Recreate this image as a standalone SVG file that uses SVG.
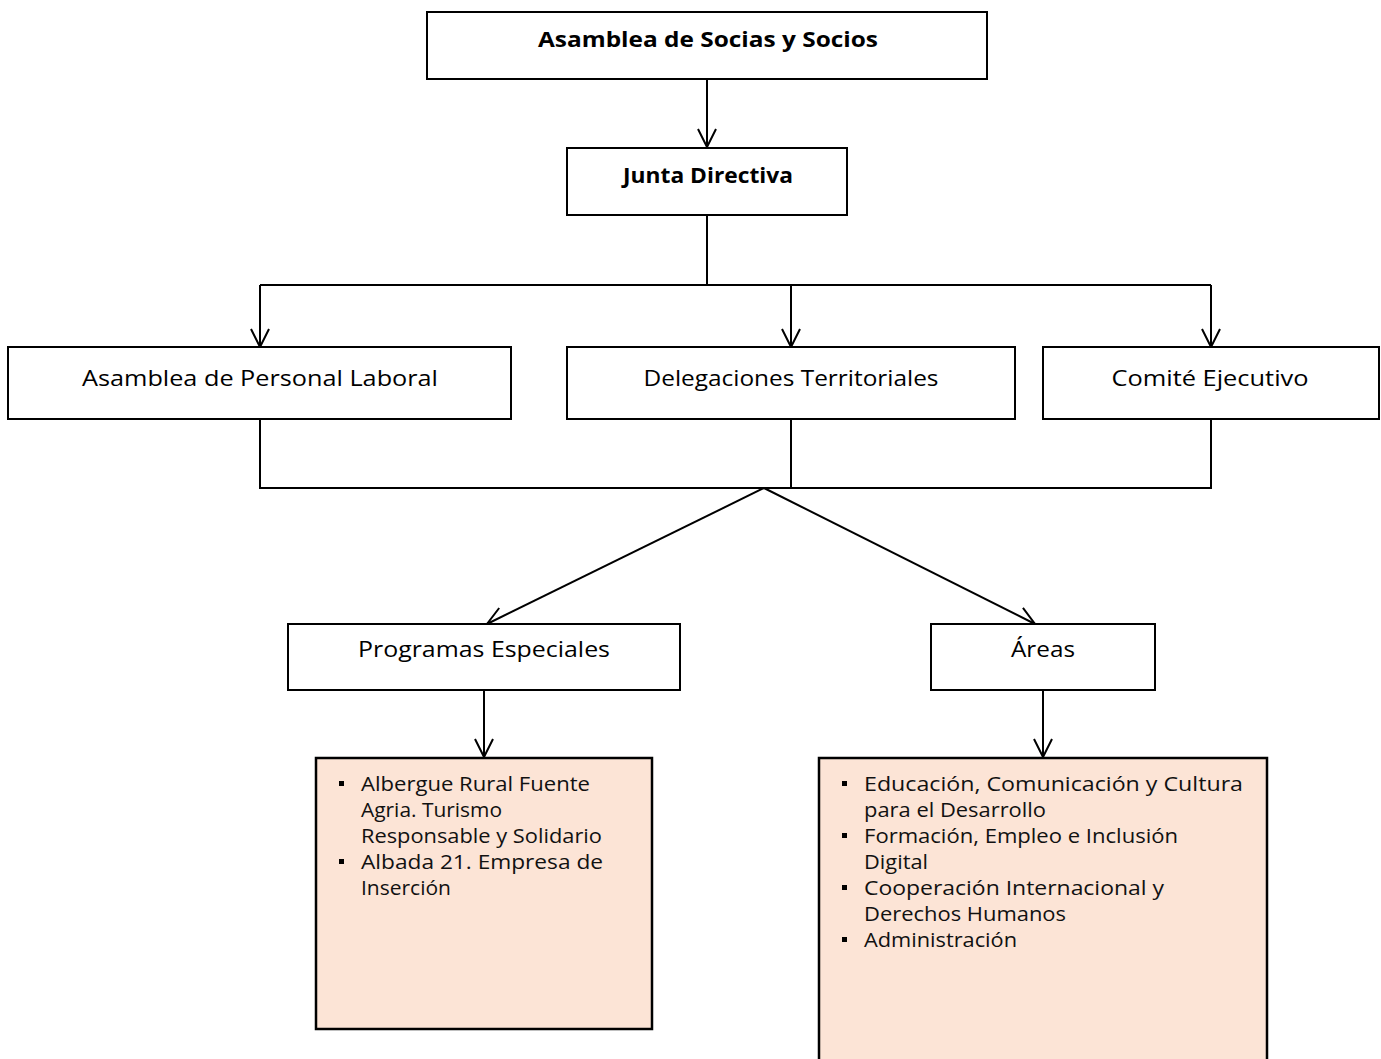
<svg xmlns="http://www.w3.org/2000/svg" width="1381" height="1059" viewBox="0 0 1381 1059">
<style>
.box{fill:#ffffff;stroke:#000000;stroke-width:2}
.list{fill:#FCE4D6;stroke:#000000;stroke-width:2.5}
.lbl{font-family:"Open Sans","Liberation Sans",sans-serif;font-size:21px;fill:#000000;text-anchor:middle}
.bold{font-weight:bold}
.item{font-family:"Open Sans","Liberation Sans",sans-serif;font-size:20px;fill:#111111}
.conn{fill:none;stroke:#000000;stroke-width:2}
.bullet{fill:#000000}
</style>
<defs>
<marker id="arr" viewBox="0 0 24 24" refX="21" refY="12" markerWidth="24" markerHeight="24" markerUnits="userSpaceOnUse" orient="auto">
<polyline points="3,3 21,12 3,21" fill="none" stroke="#000000" stroke-width="2"/>
</marker>
</defs>
<rect width="1381" height="1059" fill="#ffffff"/>
<g id="connectors">
<line class="conn" x1="707" y1="79" x2="707" y2="147" marker-end="url(#arr)"/>
<polyline class="conn" points="707,215 707,285"/>
<polyline class="conn" points="260,285 1211,285"/>
<line class="conn" x1="260" y1="285" x2="260" y2="347" marker-end="url(#arr)"/>
<line class="conn" x1="791" y1="285" x2="791" y2="347" marker-end="url(#arr)"/>
<line class="conn" x1="1211" y1="285" x2="1211" y2="347" marker-end="url(#arr)"/>
<polyline class="conn" points="260,419 260,488 1211,488 1211,419"/>
<line class="conn" x1="791" y1="419" x2="791" y2="488"/>
<line class="conn" x1="764" y1="488" x2="487" y2="624" marker-end="url(#arr)"/>
<line class="conn" x1="764" y1="488" x2="1035" y2="624" marker-end="url(#arr)"/>
<line class="conn" x1="484" y1="690" x2="484" y2="757" marker-end="url(#arr)"/>
<line class="conn" x1="1043" y1="690" x2="1043" y2="757" marker-end="url(#arr)"/>
</g>
<g id="asamblea-socios">
<rect class="box" x="427" y="12" width="560" height="67"/>
<text class="lbl bold" x="708" y="47" textLength="340" lengthAdjust="spacingAndGlyphs">Asamblea de Socias y Socios</text>
</g>
<g id="junta-directiva">
<rect class="box" x="567" y="148" width="280" height="67"/>
<text class="lbl bold" x="708" y="183" textLength="170" lengthAdjust="spacingAndGlyphs">Junta Directiva</text>
</g>
<g id="asamblea-personal">
<rect class="box" x="8" y="347" width="503" height="72"/>
<text class="lbl" x="260" y="386" textLength="356" lengthAdjust="spacingAndGlyphs">Asamblea de Personal Laboral</text>
</g>
<g id="delegaciones">
<rect class="box" x="567" y="347" width="448" height="72"/>
<text class="lbl" x="791" y="386" textLength="295" lengthAdjust="spacingAndGlyphs">Delegaciones Territoriales</text>
</g>
<g id="comite">
<rect class="box" x="1043" y="347" width="336" height="72"/>
<text class="lbl" x="1210" y="386" textLength="197" lengthAdjust="spacingAndGlyphs">Comité Ejecutivo</text>
</g>
<g id="programas">
<rect class="box" x="288" y="624" width="392" height="66"/>
<text class="lbl" x="484" y="657" textLength="252" lengthAdjust="spacingAndGlyphs">Programas Especiales</text>
</g>
<g id="areas">
<rect class="box" x="931" y="624" width="224" height="66"/>
<text class="lbl" x="1043" y="657" textLength="64" lengthAdjust="spacingAndGlyphs">Áreas</text>
</g>
<g id="programas-list">
<rect class="list" x="316" y="758" width="336" height="271"/>
<rect class="bullet" x="339" y="781" width="5" height="5"/>
<rect class="bullet" x="339" y="859" width="5" height="5"/>
<text class="item" x="361" y="791" textLength="229" lengthAdjust="spacingAndGlyphs">Albergue Rural Fuente</text>
<text class="item" x="361" y="817" textLength="141" lengthAdjust="spacingAndGlyphs">Agria. Turismo</text>
<text class="item" x="361" y="843" textLength="241" lengthAdjust="spacingAndGlyphs">Responsable y Solidario</text>
<text class="item" x="361" y="869" textLength="242" lengthAdjust="spacingAndGlyphs">Albada 21. Empresa de</text>
<text class="item" x="361" y="895" textLength="90" lengthAdjust="spacingAndGlyphs">Inserción</text>
</g>
<g id="areas-list">
<rect class="list" x="819" y="758" width="448" height="310"/>
<rect class="bullet" x="842" y="781" width="5" height="5"/>
<rect class="bullet" x="842" y="833" width="5" height="5"/>
<rect class="bullet" x="842" y="885" width="5" height="5"/>
<rect class="bullet" x="842" y="937" width="5" height="5"/>
<text class="item" x="864" y="791" textLength="379" lengthAdjust="spacingAndGlyphs">Educación, Comunicación y Cultura</text>
<text class="item" x="864" y="817" textLength="182" lengthAdjust="spacingAndGlyphs">para el Desarrollo</text>
<text class="item" x="864" y="843" textLength="314" lengthAdjust="spacingAndGlyphs">Formación, Empleo e Inclusión</text>
<text class="item" x="864" y="869" textLength="64" lengthAdjust="spacingAndGlyphs">Digital</text>
<text class="item" x="864" y="895" textLength="300" lengthAdjust="spacingAndGlyphs">Cooperación Internacional y</text>
<text class="item" x="864" y="921" textLength="202" lengthAdjust="spacingAndGlyphs">Derechos Humanos</text>
<text class="item" x="864" y="947" textLength="153" lengthAdjust="spacingAndGlyphs">Administración</text>
</g>
</svg>
